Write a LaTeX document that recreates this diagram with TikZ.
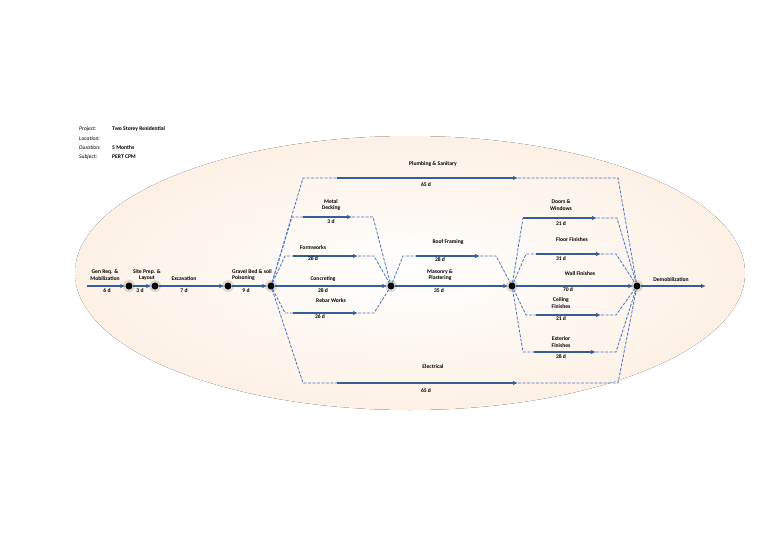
\documentclass[tikz,border=0pt]{standalone}
\usepackage{fontspec}
\setmainfont{Carlito}
\usetikzlibrary{arrows.meta}
\definecolor{solidc}{RGB}{55,92,150}
\definecolor{dashc}{RGB}{70,115,195}
\definecolor{peach}{RGB}{253,241,229}
\tikzset{
 evt/.style={circle,fill=black,inner sep=0pt,minimum size=7pt},
 act/.style={draw=solidc,line width=1.1pt,-{Latex[length=5pt,width=4.5pt]}},
 dum/.style={draw=dashc,line width=0.8pt,dash pattern=on 3pt off 1.5pt},
 lbl/.style={font=\fontsize{5.6}{6.4}\selectfont\bfseries,align=center,inner sep=0pt},
 hd/.style={font=\fontsize{5.6}{6.4}\selectfont,anchor=west,inner sep=0pt}
}
\begin{document}
\begin{tikzpicture}[x=1pt,y=-1pt]
\useasboundingbox (0,0) rectangle (768,543);
\fill[inner color=white,outer color=peach] (410,273) ellipse [x radius=335,y radius=137];
% header
\node[hd] (h1) at (79,129) {\itshape Project:};
\node[hd] (h2) at (79,139) {\itshape Location:};
\node[hd] (h3) at (79,148) {\itshape Duration:};
\node[hd] (h4) at (79,157) {\itshape Subject:};
\node[hd] (v1) at (112,129) {\bfseries Two Storey Residential};
\node[hd] (v3) at (112,148) {\bfseries 5 Months};
\node[hd] (v4) at (112,157) {\bfseries PERT CPM};
% events
\coordinate (s) at (87,286);
\coordinate (e) at (706,286);
\foreach \n/\x in {n1/129,n2/155,n3/228,n4/271,n5/391,n6/512,n7/637}{
 \fill[gray,opacity=0.25] (\x,286) circle (6);
 \node[evt] (\n) at (\x,286) {};}
% main line
\draw[act] (s) -- (n1);
\draw[act] (n1) -- (n2);
\draw[act] (n2) -- (n3);
\draw[act] (n3) -- (n4);
\draw[act] (n4) -- (n5);
\draw[act] (n5) -- (n6);
\draw[act] (n6) -- (n7);
\draw[act] (n7) -- (e);
% Plumbing
\coordinate (pa) at (303,178); \coordinate (pb) at (337,178); \coordinate (pc) at (518,178); \coordinate (pd) at (618,178);
\draw[dum] (n4) -- (pa) -- (pb); \draw[act] (pb) -- (pc); \draw[dum] (pc) -- (pd) -- (n7);
% Electrical
\coordinate (ea) at (303,383); \coordinate (eb) at (337,383); \coordinate (ec) at (518,383); \coordinate (ed) at (618,383);
\draw[dum] (n4) -- (ea) -- (eb); \draw[act] (eb) -- (ec); \draw[dum] (ec) -- (ed) -- (n7);
% Metal decking
\coordinate (ma) at (292,217); \coordinate (mb) at (303,217); \coordinate (mc) at (352,217); \coordinate (md) at (373,217);
\draw[dum] (n4) -- (ma) -- (mb); \draw[act] (mb) -- (mc); \draw[dum] (mc) -- (md) -- (n5);
% Formworks
\coordinate (fa) at (285,256); \coordinate (fb) at (293,256); \coordinate (fc) at (358,256); \coordinate (fd) at (374,256);
\draw[dum] (n4) -- (fa) -- (fb); \draw[act] (fb) -- (fc); \draw[dum] (fc) -- (fd) -- (n5);
% Rebar
\coordinate (ra) at (285,313); \coordinate (rb) at (293,313); \coordinate (rc) at (358,313); \coordinate (rd) at (374,313);
\draw[dum] (n4) -- (ra) -- (rb); \draw[act] (rb) -- (rc); \draw[dum] (rc) -- (rd) -- (n5);
% Roof framing
\coordinate (ga) at (403,256); \coordinate (gb) at (416,256); \coordinate (gc) at (480,256); \coordinate (gd) at (496,256);
\draw[dum] (n5) -- (ga) -- (gb); \draw[act] (gb) -- (gc); \draw[dum] (gc) -- (gd) -- (n6);
% Doors
\coordinate (da) at (523,218); \coordinate (dc) at (597,218); \coordinate (dd) at (617,218);
\draw[dum] (n6) -- (da); \draw[act] (da) -- (dc); \draw[dum] (dc) -- (dd) -- (n7);
% Floor
\coordinate (la) at (526,254); \coordinate (lb) at (536,254); \coordinate (lc) at (601,254); \coordinate (ld) at (616,254);
\draw[dum] (n6) -- (la) -- (lb); \draw[act] (lb) -- (lc); \draw[dum] (lc) -- (ld) -- (n7);
% Ceiling
\coordinate (ca) at (526,315); \coordinate (cb) at (536,315); \coordinate (cc) at (601,315); \coordinate (cd) at (616,315);
\draw[dum] (n6) -- (ca) -- (cb); \draw[act] (cb) -- (cc); \draw[dum] (cc) -- (cd) -- (n7);
% Exterior
\coordinate (xa) at (523,352); \coordinate (xb) at (534,352); \coordinate (xc) at (596,352); \coordinate (xd) at (616,352);
\draw[dum] (n6) -- (xa) -- (xb); \draw[act] (xb) -- (xc); \draw[dum] (xc) -- (xd) -- (n7);
% labels
\node[lbl] (l1) at (105,275) {Gen Req. \&\\Mobilization};
\node[lbl] (d1) at (107,291) {6 d};
\node[lbl] (l2) at (147,275) {Site Prep. \&\\Layout};
\node[lbl] (d2) at (140,291) {3 d};
\node[lbl] (l3) at (184,279) {Excavation};
\node[lbl] (d3) at (184,291) {7 d};
\node[lbl,align=left,anchor=west] (l4) at (232,275) {Gravel Bed \& soil\\Poisoning};
\node[lbl] (d4) at (246,291) {9 d};
\node[lbl] (l5) at (323,279) {Concreting};
\node[lbl] (d5) at (323,291) {28 d};
\node[lbl] (l6) at (331,205) {Metal\\Decking};
\node[lbl] (d6) at (331,222) {3 d};
\node[lbl] (l7) at (313,248) {Formworks};
\node[lbl] (d7) at (313,259) {26 d};
\node[lbl] (l8) at (331,301) {Rebar Works};
\node[lbl] (d8) at (320,317) {26 d};
\node[lbl] (l9) at (433,164) {Plumbing \& Sanitary};
\node[lbl] (d9) at (426,185) {65 d};
\node[lbl] (l10) at (433,367) {Electrical};
\node[lbl] (d10) at (426,391) {65 d};
\node[lbl] (l11) at (448,242) {Roof Framing};
\node[lbl] (d11) at (440,260) {28 d};
\node[lbl] (l12) at (440,275) {Masonry \&\\Plastering};
\node[lbl] (d12) at (439,291) {35 d};
\node[lbl] (l13) at (561,205) {Doors \&\\Windows};
\node[lbl] (d13) at (561,224) {21 d};
\node[lbl] (l14) at (572,240) {Floor Finishes};
\node[lbl] (d14) at (561,259) {31 d};
\node[lbl] (l15) at (580,274) {Wall Finishes};
\node[lbl] (d15) at (568,290) {70 d};
\node[lbl] (l16) at (561,303) {Ceiling\\Finishes};
\node[lbl] (d16) at (561,319) {21 d};
\node[lbl] (l17) at (561,342) {Exterior\\Finishes};
\node[lbl] (d17) at (561,357) {28 d};
\node[lbl] (l18) at (671,280) {Demobilization};
\end{tikzpicture}
\end{document}
